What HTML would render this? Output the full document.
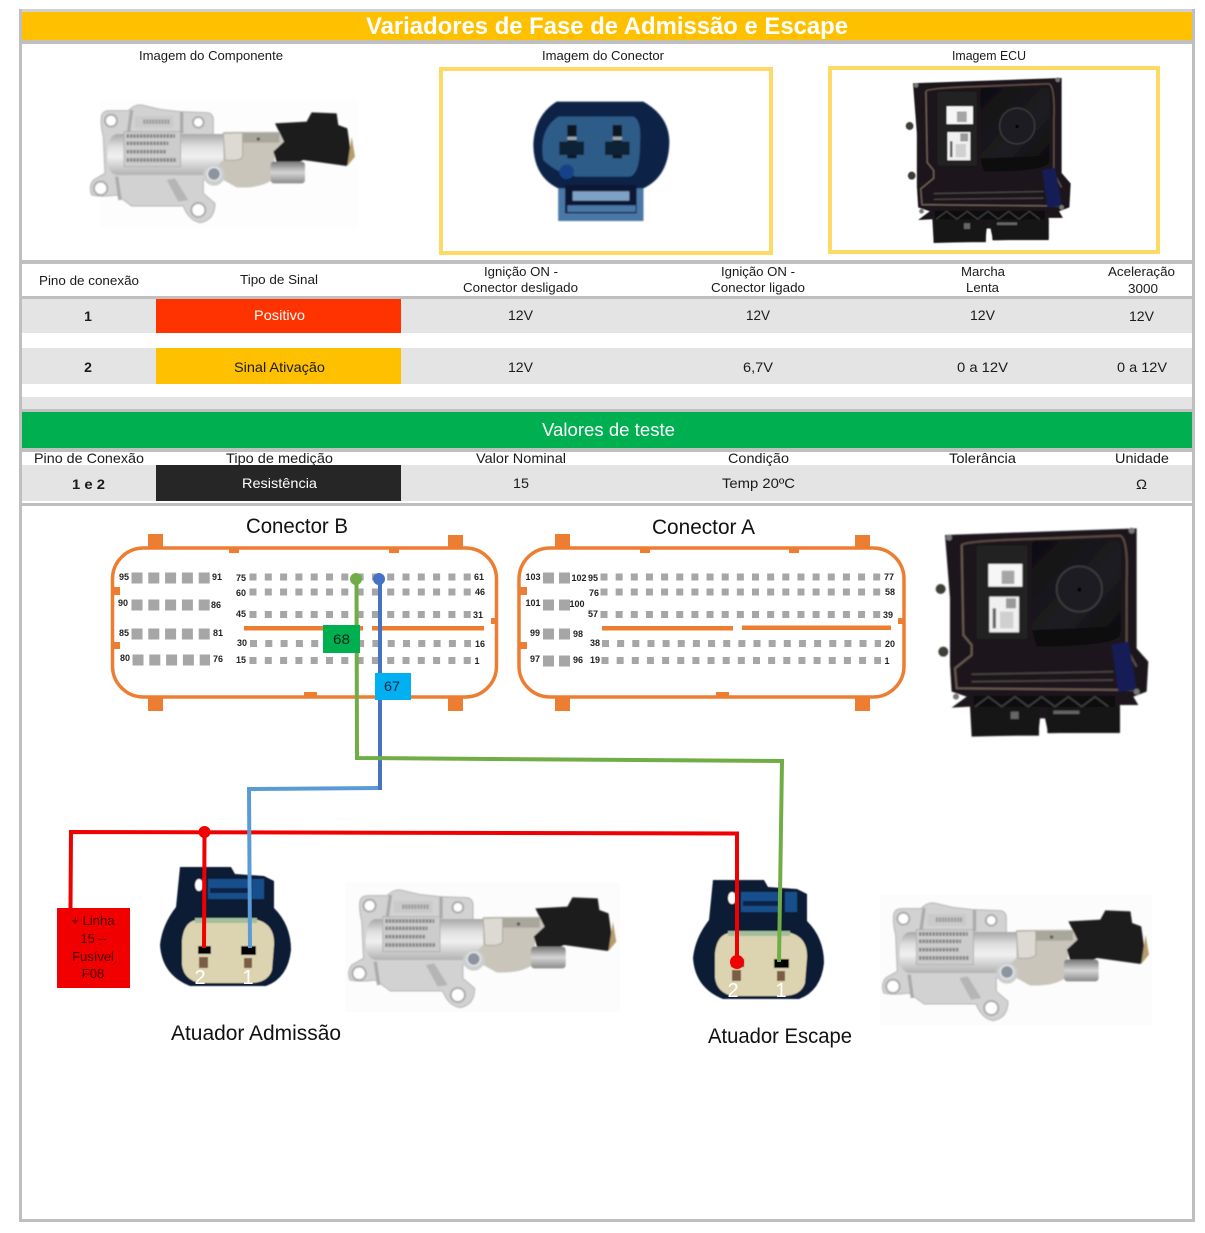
<!DOCTYPE html>
<html lang="pt">
<head>
<meta charset="utf-8">
<title>Variadores de Fase de Admissão e Escape</title>
<style>
html,body{margin:0;padding:0;background:#fff;}
svg{display:block;}
text{font-family:"Liberation Sans",sans-serif;fill:#1a1a1a;}
.h{font-size:13px;}
.v{font-size:14px;}
.c{font-size:21px;fill:#111;}
.p{font-size:9px;font-weight:bold;text-anchor:middle;fill:#222;}
.pin{stroke:#a6a6a6;stroke-width:7;stroke-dasharray:7 8.3;fill:none;}
.pina{stroke:#a6a6a6;stroke-width:7;stroke-dasharray:7 8.15;fill:none;}
.blk{stroke:#a6a6a6;stroke-width:11;stroke-dasharray:11 5.8;fill:none;}
.blka{stroke:#a6a6a6;stroke-width:11;stroke-dasharray:11 5;fill:none;}
.o{fill:#ed7d31;}
</style>
</head>
<body>
<svg xmlns="http://www.w3.org/2000/svg" width="1205" height="1233" viewBox="0 0 1205 1233">
<defs>
<linearGradient id="cyl" x1="0" y1="0" x2="0" y2="1">
<stop offset="0" stop-color="#a8a8a8"/><stop offset=".3" stop-color="#dedede"/><stop offset=".55" stop-color="#f0f0f0"/><stop offset="1" stop-color="#b2b2b2"/>
</linearGradient>
<linearGradient id="sol" x1="0" y1="0" x2="0" y2="1">
<stop offset="0" stop-color="#777"/><stop offset=".5" stop-color="#d5d5d5"/><stop offset="1" stop-color="#8a8a8a"/>
</linearGradient>
<linearGradient id="panel" x1="0" y1="0" x2="1" y2="1">
<stop offset="0" stop-color="#0e0d10"/><stop offset=".6" stop-color="#1e1e22"/><stop offset="1" stop-color="#0c0b0d"/>
</linearGradient>
<filter id="b" x="-5%" y="-5%" width="110%" height="110%"><feGaussianBlur stdDeviation="2.2"/></filter>
<filter id="b2" x="-5%" y="-5%" width="110%" height="110%"><feGaussianBlur stdDeviation="0.6"/></filter>

<g id="valve" filter="url(#b)">
<path d="M125 105Q130 92 150 92L205 92Q225 72 245 75L300 88L360 95L440 98Q460 100 460 120L460 165L490 290L430 300L430 340L465 370Q465 420 420 428Q385 420 370 378L215 378L170 345Q125 352 95 345Q85 320 100 300L135 280L130 170Q120 130 125 105Z" fill="#d2d2d2" stroke="#b5b5b5" stroke-width="3"/>
<path d="M215 90L205 160M365 95L365 160M170 290L180 360" stroke="#ababab" stroke-width="10" fill="none"/>
<path d="M320 300L355 365L385 360L345 295Z" fill="#b5b5b5"/>
<rect x="225" y="108" width="115" height="35" fill="#cacaca"/>
<path d="M250 125H330" stroke="#999" stroke-width="14" stroke-dasharray="6 3" fill="none"/>
<path d="M170 162L490 162L490 285L170 285Q140 280 142 225Q142 168 170 162Z" fill="url(#cyl)"/>
<path d="M490 156L670 155L680 190L645 230L636 300Q600 326 530 322L490 300L435 292L490 240Z" fill="#c9c5bb"/>
<path d="M490 160L548 158L548 230Q540 245 495 240Z" fill="#dcdad2" stroke="#aaa99f" stroke-width="3"/>
<rect x="548" y="158" width="110" height="30" fill="#a9a69c"/>
<circle cx="595" cy="177" r="5" fill="#555"/>
<rect x="632" y="245" width="103" height="65" rx="10" fill="url(#sol)"/>
<path d="M645 130L740 125L755 97L830 100L835 135L862 145L875 235L860 258L730 240L720 245L650 245L640 215L672 185Z" fill="#1f1f1f"/>
<path d="M875 170L885 230L862 258Z" fill="#b59c6e"/>
<rect x="192" y="155" width="170" height="105" fill="#cccccc" stroke="#a2a2a2" stroke-width="2"/>
<path d="M200 168H345M200 190H325M200 215H320M200 240H350" stroke="#808080" stroke-width="11" stroke-dasharray="7 3" fill="none"/>
<circle cx="153" cy="122" r="18" fill="#fff" stroke="#aaa" stroke-width="6"/>
<circle cx="415" cy="127" r="16" fill="#fff" stroke="#aaa" stroke-width="6"/>
<circle cx="122" cy="325" r="20" fill="#fff" stroke="#aaa" stroke-width="6"/>
<circle cx="415" cy="390" r="21" fill="#fff" stroke="#aaa" stroke-width="6"/>
<circle cx="462" cy="285" r="32" fill="#cbcdcf"/>
<circle cx="462" cy="282" r="20" fill="#8c94a0" stroke="#e5e5e5" stroke-width="5"/>
</g>

<g id="plug">
<g filter="url(#b2)">
<path d="M180 867L231 867L235 874L264 876L274 881L274 908Q291 925 291 950Q288 978 266 986L190 986Q162 975 160 945Q162 925 176 907Z" fill="#101c35"/>
<rect x="208" y="879" width="40" height="20" fill="#14508c"/>
<rect x="252" y="879" width="12" height="20" fill="#14508c"/>
<rect x="210" y="888" width="38" height="5" fill="#0c2245"/>
<ellipse cx="199" cy="885" rx="4" ry="6" fill="#fff"/>
<path d="M196 920L258 920Q275 925 274 945L272 970Q268 983 250 983L200 983Q184 980 182 965L182 940Q184 922 196 920Z" fill="#dcd3b0"/>
<rect x="195" y="918" width="62" height="5" fill="#a2bf9c"/>
<rect x="198" y="946" width="13" height="8" fill="#000"/>
<rect x="241" y="946" width="15" height="9" fill="#000"/>
<rect x="199" y="957" width="9" height="11" fill="#7a5d45"/>
<rect x="244" y="958" width="8" height="10" fill="#7a5d45"/>
</g>
<text x="200" y="984" font-size="20" text-anchor="middle" style="fill:#fff">2</text>
<text x="248" y="984" font-size="20" text-anchor="middle" style="fill:#fff">1</text>
</g>

<g id="ecu" filter="url(#b)">
<path d="M75 60L650 40L650 400L685 440L680 530L640 545L655 570L600 570L600 650L385 655L375 610L360 610L355 660L155 665L150 575L95 578L140 545L95 530L90 450L90 250Z" fill="#1b191b"/>
<path d="M125 90Q135 78 330 72L600 62Q625 70 620 200L620 400L650 455" fill="none" stroke="#5e4c44" stroke-width="6"/>
<path d="M125 90L130 360L155 390L155 420L105 460L110 520L640 525" fill="none" stroke="#6a5a50" stroke-width="6"/>
<rect x="170" y="92" width="152" height="280" rx="8" fill="#232323"/>
<rect x="335" y="78" width="268" height="285" rx="14" fill="url(#panel)"/>
<path d="M335 345L600 335L600 362Q580 395 350 395Z" fill="#0b0a0c"/>
<circle cx="478" cy="222" r="68" fill="#1f1f22" stroke="#3d3d40" stroke-width="5"/>
<circle cx="478" cy="224" r="6" fill="#000"/>
<rect x="205" y="147" width="102" height="68" fill="#f6f6f6"/>
<rect x="245" y="167" width="38" height="40" fill="#a5a5a5"/>
<rect x="208" y="245" width="89" height="107" fill="#f0f0f0"/>
<rect x="258" y="250" width="30" height="30" fill="#999"/>
<rect x="218" y="280" width="10" height="60" fill="#666"/>
<rect x="240" y="290" width="40" height="50" fill="#d0d0d0"/>
<path d="M575 390L625 380L640 460L650 525L595 530Z" fill="#131c55"/>
<path d="M155 478L580 470M155 500L580 495" stroke="#4a4440" stroke-width="5" fill="none"/>
<rect x="160" y="542" width="425" height="35" fill="#0f0f10"/>
<path d="M165 575L205 545L245 575L285 545L325 575L365 545L405 575L445 545L485 575L525 545L565 575" stroke="#3d3d3d" stroke-width="5" fill="none"/>
<rect x="155" y="580" width="202" height="82" fill="#131316"/>
<rect x="382" y="578" width="218" height="76" fill="#131316"/>
<rect x="272" y="590" width="24" height="22" fill="#666"/>
<rect x="400" y="587" width="78" height="10" fill="#666"/>
<circle cx="62" cy="222" r="15" fill="#3f3c38"/>
<circle cx="70" cy="410" r="15" fill="#3f3c38"/>
<circle cx="87" cy="68" r="9" fill="#777"/>
<circle cx="635" cy="47" r="9" fill="#777"/>
<circle cx="108" cy="545" r="9" fill="#777"/>
<circle cx="650" cy="530" r="9" fill="#777"/>
</g>
</defs>

<rect width="1205" height="1233" fill="#fff"/>

<!-- bands -->
<rect x="19" y="9" width="1176" height="3" fill="#d0d0d0"/>
<rect x="22" y="12" width="1170" height="28" fill="#ffc000"/>
<rect x="22" y="40" width="1170" height="4" fill="#bfbfbf"/>
<rect x="22" y="260" width="1170" height="4" fill="#bfbfbf"/>
<rect x="22" y="296" width="1170" height="3" fill="#bfbfbf"/>
<rect x="22" y="299" width="1170" height="34" fill="#e4e4e4"/>
<rect x="22" y="348" width="1170" height="36" fill="#e4e4e4"/>
<rect x="22" y="397" width="1170" height="12" fill="#e4e4e4"/>
<rect x="22" y="409" width="1170" height="3" fill="#bfbfbf"/>
<rect x="22" y="412" width="1170" height="36" fill="#00b050"/>
<rect x="22" y="448" width="1170" height="4" fill="#bfbfbf"/>
<rect x="22" y="465" width="1170" height="36" fill="#e4e4e4"/>
<rect x="22" y="503" width="1170" height="3" fill="#bfbfbf"/>
<rect x="156" y="299" width="245" height="34" fill="#ff3300"/>
<rect x="156" y="348" width="245" height="36" fill="#ffc000"/>
<rect x="156" y="465" width="245" height="36" fill="#262626"/>
<!-- outer border -->
<rect x="19" y="9" width="3" height="1213" fill="#bfbfbf"/>
<rect x="1192" y="9" width="3" height="1213" fill="#bfbfbf"/>
<rect x="19" y="1219" width="1176" height="3" fill="#bfbfbf"/>

<!-- title and headers -->
<text x="366" y="34" font-size="24" font-weight="bold" textLength="482" lengthAdjust="spacingAndGlyphs" style="fill:#fff">Variadores de Fase de Admissão e Escape</text>
<text class="h" x="139" y="60" textLength="144" lengthAdjust="spacingAndGlyphs">Imagem do Componente</text>
<text class="h" x="542" y="60" textLength="122" lengthAdjust="spacingAndGlyphs">Imagem do Conector</text>
<text class="h" x="952" y="60" textLength="74" lengthAdjust="spacingAndGlyphs">Imagem ECU</text>

<!-- photo row -->
<rect x="100" y="100" width="258" height="128" fill="#fdfdfd"/>
<use href="#valve" transform="translate(60 80) scale(.3333)"/>

<rect x="441" y="69" width="330" height="184" fill="#fff" stroke="#ffd966" stroke-width="4"/>
<g transform="translate(430 60) scale(.3333)" filter="url(#b)">
<path d="M380 125L640 125Q720 170 718 250Q715 350 640 385L640 483L385 483L385 385Q310 350 310 250Q315 165 380 125Z" fill="#0b2347"/>
<path d="M385 170L610 170Q635 180 630 250Q630 340 600 350L440 350Q380 340 340 300Q325 210 385 170Z" fill="#2f5c88"/>
<rect x="412" y="195" width="28" height="100" fill="#0a1320"/>
<rect x="548" y="195" width="28" height="100" fill="#0a1320"/>
<rect x="388" y="245" width="74" height="40" fill="#0f2036"/>
<rect x="525" y="245" width="74" height="40" fill="#0f2036"/>
<rect x="412" y="230" width="28" height="10" fill="#9aa6b2"/>
<rect x="548" y="230" width="28" height="10" fill="#9aa6b2"/>
<circle cx="410" cy="335" r="22" fill="#174389"/>
<rect x="385" y="385" width="255" height="98" fill="#4a78a8"/>
<rect x="405" y="375" width="215" height="85" fill="#0a1832"/>
<rect x="428" y="394" width="170" height="28" fill="#7ea2c6"/>
<rect x="412" y="436" width="205" height="20" fill="#4a78a8"/>
</g>

<rect x="830" y="68" width="328" height="184" fill="#fff" stroke="#ffd966" stroke-width="4"/>
<use href="#ecu" transform="translate(893.6 67.4) scale(.2585 .264)"/>

<!-- table 1 -->
<text class="h" x="39" y="285" textLength="100" lengthAdjust="spacingAndGlyphs">Pino de conexão</text>
<text class="h" x="240" y="284" textLength="78" lengthAdjust="spacingAndGlyphs">Tipo de Sinal</text>
<text class="h" x="484" y="276" textLength="74" lengthAdjust="spacingAndGlyphs">Ignição ON -</text>
<text class="h" x="463" y="292" textLength="115" lengthAdjust="spacingAndGlyphs">Conector desligado</text>
<text class="h" x="721" y="276" textLength="74" lengthAdjust="spacingAndGlyphs">Ignição ON -</text>
<text class="h" x="711" y="292" textLength="94" lengthAdjust="spacingAndGlyphs">Conector ligado</text>
<text class="h" x="961" y="276" textLength="44" lengthAdjust="spacingAndGlyphs">Marcha</text>
<text class="h" x="966" y="292" textLength="33" lengthAdjust="spacingAndGlyphs">Lenta</text>
<text class="h" x="1108" y="276" textLength="67" lengthAdjust="spacingAndGlyphs">Aceleração</text>
<text class="h" x="1128" y="293" textLength="30" lengthAdjust="spacingAndGlyphs">3000</text>

<text class="v" x="88" y="321" font-weight="bold" text-anchor="middle">1</text>
<text class="v" x="254" y="320" textLength="51" lengthAdjust="spacingAndGlyphs" style="fill:#fff">Positivo</text>
<text class="v" x="508" y="320" textLength="25" lengthAdjust="spacingAndGlyphs">12V</text>
<text class="v" x="746" y="320" textLength="24" lengthAdjust="spacingAndGlyphs">12V</text>
<text class="v" x="970" y="320" textLength="25" lengthAdjust="spacingAndGlyphs">12V</text>
<text class="v" x="1129" y="321" textLength="25" lengthAdjust="spacingAndGlyphs">12V</text>

<text class="v" x="88" y="372" font-weight="bold" text-anchor="middle">2</text>
<text class="v" x="234" y="372" textLength="91" lengthAdjust="spacingAndGlyphs">Sinal Ativação</text>
<text class="v" x="508" y="372" textLength="25" lengthAdjust="spacingAndGlyphs">12V</text>
<text class="v" x="743" y="372" textLength="30" lengthAdjust="spacingAndGlyphs">6,7V</text>
<text class="v" x="957" y="372" textLength="51" lengthAdjust="spacingAndGlyphs">0 a 12V</text>
<text class="v" x="1117" y="372" textLength="50" lengthAdjust="spacingAndGlyphs">0 a 12V</text>

<!-- table 2 -->
<text x="542" y="436" font-size="18" textLength="133" lengthAdjust="spacingAndGlyphs" style="fill:#fff">Valores de teste</text>
<text class="v" x="34" y="463" textLength="110" lengthAdjust="spacingAndGlyphs">Pino de Conexão</text>
<text class="v" x="226" y="463" textLength="107" lengthAdjust="spacingAndGlyphs">Tipo de medição</text>
<text class="v" x="476" y="463" textLength="90" lengthAdjust="spacingAndGlyphs">Valor Nominal</text>
<text class="v" x="728" y="463" textLength="61" lengthAdjust="spacingAndGlyphs">Condição</text>
<text class="v" x="949" y="463" textLength="67" lengthAdjust="spacingAndGlyphs">Tolerância</text>
<text class="v" x="1115" y="463" textLength="54" lengthAdjust="spacingAndGlyphs">Unidade</text>
<text class="v" x="72" y="489" font-weight="bold" textLength="33" lengthAdjust="spacingAndGlyphs">1 e 2</text>
<text class="v" x="242" y="488" textLength="75" lengthAdjust="spacingAndGlyphs" style="fill:#fff">Resistência</text>
<text class="v" x="513" y="488" textLength="16" lengthAdjust="spacingAndGlyphs">15</text>
<text class="v" x="722" y="488" textLength="73" lengthAdjust="spacingAndGlyphs">Temp 20ºC</text>
<text class="v" x="1136" y="489" textLength="11" lengthAdjust="spacingAndGlyphs">Ω</text>

<!-- connector B -->
<text class="c" x="246" y="533" textLength="102" lengthAdjust="spacingAndGlyphs">Conector B</text>
<rect class="o" x="148" y="534" width="15" height="14"/><rect class="o" x="448" y="535" width="15" height="13"/>
<rect class="o" x="148" y="697" width="15" height="14"/><rect class="o" x="448" y="697" width="15" height="14"/>
<rect class="o" x="229" y="548" width="10" height="5"/><rect class="o" x="389" y="548" width="10" height="5"/>
<rect class="o" x="304" y="692" width="13" height="5"/>
<rect class="o" x="113" y="587" width="7" height="8"/><rect class="o" x="113" y="642" width="7" height="7"/>
<rect class="o" x="491" y="618" width="6" height="6"/>
<rect x="112.5" y="548" width="384" height="149" rx="31" fill="none" stroke="#ed7d31" stroke-width="3.5"/>
<rect class="o" x="244" y="626" width="119" height="4.5"/><rect class="o" x="372" y="626" width="112" height="4.5"/>

<line class="pin" x1="249.5" y1="577" x2="471" y2="577"/>
<line class="pin" x1="249.5" y1="592" x2="471" y2="592"/>
<line class="pin" x1="249.5" y1="614.5" x2="471" y2="614.5"/>
<line class="pin" x1="250" y1="643.5" x2="471" y2="643.5"/>
<line class="pin" x1="249.5" y1="660.5" x2="471" y2="660.5"/>
<line class="blk" x1="131.5" y1="578" x2="210" y2="578"/>
<line class="blk" x1="131.5" y1="605" x2="210" y2="605"/>
<line class="blk" x1="131.5" y1="634" x2="210" y2="634"/>
<line class="blk" x1="132.5" y1="660" x2="210" y2="660"/>

<g>
<text class="p" x="124" y="580">95</text><text class="p" x="217" y="580">91</text>
<text class="p" x="123" y="606">90</text><text class="p" x="216" y="608">86</text>
<text class="p" x="124" y="636">85</text><text class="p" x="218" y="636">81</text>
<text class="p" x="125" y="661">80</text><text class="p" x="218" y="662">76</text>
<text class="p" x="241" y="581">75</text><text class="p" x="241" y="596">60</text>
<text class="p" x="241" y="617">45</text><text class="p" x="242" y="646">30</text>
<text class="p" x="241" y="663">15</text>
<text class="p" x="479" y="580">61</text><text class="p" x="480" y="595">46</text>
<text class="p" x="478" y="618">31</text><text class="p" x="480" y="647">16</text>
<text class="p" x="477" y="664">1</text>
</g>

<!-- connector A -->
<text class="c" x="652" y="534" textLength="103" lengthAdjust="spacingAndGlyphs">Conector A</text>
<rect class="o" x="555" y="534" width="15" height="14"/><rect class="o" x="855" y="535" width="15" height="13"/>
<rect class="o" x="555" y="697" width="15" height="14"/><rect class="o" x="855" y="697" width="15" height="14"/>
<rect class="o" x="640" y="548" width="10" height="5"/><rect class="o" x="789" y="548" width="10" height="5"/>
<rect class="o" x="716" y="692" width="13" height="5"/>
<rect class="o" x="518" y="587" width="9" height="8"/><rect class="o" x="518" y="642" width="9" height="7"/>
<rect class="o" x="898" y="618" width="7" height="6"/>
<rect x="519" y="548" width="385" height="149" rx="31" fill="none" stroke="#ed7d31" stroke-width="3.5"/>
<rect class="o" x="602" y="626" width="131" height="4.5"/><rect class="o" x="742" y="625.5" width="149" height="4.5"/>

<line class="pina" x1="600.5" y1="577" x2="881" y2="577"/>
<line class="pina" x1="600.5" y1="592" x2="881" y2="592"/>
<line class="pina" x1="600.5" y1="614.5" x2="881" y2="614.5"/>
<line class="pina" x1="602" y1="643.5" x2="881" y2="643.5"/>
<line class="pina" x1="601.5" y1="660.5" x2="881" y2="660.5"/>
<line class="blka" x1="543" y1="578" x2="570" y2="578"/>
<line class="blka" x1="543" y1="605" x2="570" y2="605"/>
<line class="blka" x1="543" y1="634" x2="570" y2="634"/>
<line class="blka" x1="543" y1="661" x2="570" y2="661"/>

<g>
<text class="p" x="533" y="580">103</text><text class="p" x="579" y="581">102</text><text class="p" x="593" y="581">95</text>
<text class="p" x="533" y="606">101</text><text class="p" x="577" y="607">100</text>
<text class="p" x="594" y="596">76</text><text class="p" x="593" y="617">57</text>
<text class="p" x="535" y="636">99</text><text class="p" x="578" y="637">98</text>
<text class="p" x="595" y="646">38</text>
<text class="p" x="535" y="662">97</text><text class="p" x="578" y="663">96</text><text class="p" x="595" y="663">19</text>
<text class="p" x="889" y="580">77</text><text class="p" x="890" y="595">58</text>
<text class="p" x="888" y="618">39</text><text class="p" x="890" y="647">20</text>
<text class="p" x="887" y="664">1</text>
</g>

<!-- lower ECU -->
<use href="#ecu" transform="translate(920 515) scale(.3333)"/>

<!-- actuators -->
<rect x="345" y="882" width="275" height="130" fill="#fcfcfc"/>
<use href="#valve" transform="translate(318 865) scale(.337 .3333)"/>
<rect x="880" y="895" width="272" height="130" fill="#fcfcfc"/>
<use href="#valve" transform="translate(852 878) scale(.3355 .3333)"/>
<use href="#plug"/>
<use href="#plug" transform="translate(533 13)"/>

<text class="c" x="171" y="1040" textLength="170" lengthAdjust="spacingAndGlyphs">Atuador Admissão</text>
<text class="c" x="708" y="1043" textLength="144" lengthAdjust="spacingAndGlyphs">Atuador Escape</text>

<!-- wires -->
<path d="M70.500 908L71 832L737 833.500L737 962" fill="none" stroke="#f00000" stroke-width="4"/>
<line x1="204.500" y1="832" x2="204" y2="948" stroke="#f00000" stroke-width="4"/>
<circle cx="204.500" cy="832" r="6" fill="#f00000"/>
<circle cx="737" cy="962" r="7" fill="#f00000"/>
<path d="M380 788L249 789L250 948" fill="none" stroke="#5b9bd5" stroke-width="4"/>
<line x1="380" y1="580" x2="380" y2="790" stroke="#4472c4" stroke-width="4"/>
<path d="M356.500 580L357 758L782 761L779 962" fill="none" stroke="#70ad47" stroke-width="4"/>
<circle cx="356" cy="579" r="6" fill="#70ad47"/>
<circle cx="379" cy="579" r="6" fill="#4472c4"/>

<rect x="323" y="625" width="37" height="28" fill="#00b050"/>
<text x="333" y="644" font-size="14" textLength="17" lengthAdjust="spacingAndGlyphs" style="fill:#04251a">68</text>
<rect x="375" y="673" width="36" height="27" fill="#00b0f0"/>
<text x="384" y="691" font-size="14" textLength="16" lengthAdjust="spacingAndGlyphs" style="fill:#04253a">67</text>

<rect x="57" y="908" width="73" height="80" fill="#f00000"/>
<g font-size="13" text-anchor="middle">
<text x="93" y="925" style="fill:#4a0000">+ Linha</text>
<text x="93" y="943" style="fill:#4a0000">15 –</text>
<text x="93" y="961" style="fill:#4a0000">Fusível</text>
<text x="93" y="978" style="fill:#4a0000">F08</text>
</g>
</svg>
</body>
</html>
